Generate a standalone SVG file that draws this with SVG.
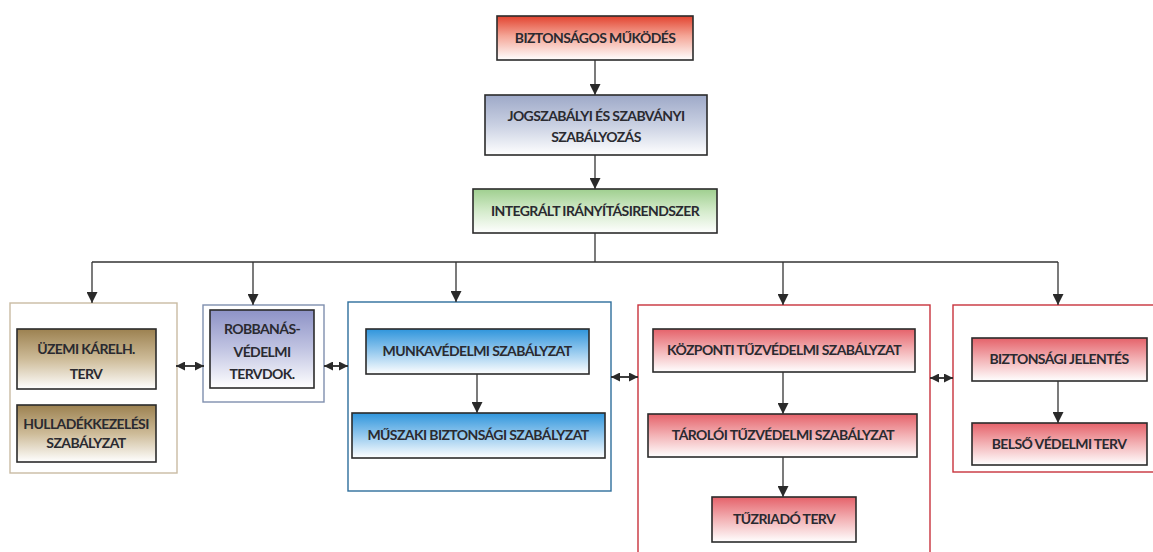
<svg xmlns="http://www.w3.org/2000/svg" width="1153" height="552" viewBox="0 0 1153 552">
<defs>
<linearGradient id="gRed0" x1="0" y1="0" x2="0" y2="1"><stop offset="0" stop-color="#e2432f"/><stop offset="0.45" stop-color="#f4a596"/><stop offset="1" stop-color="#ffffff"/></linearGradient>
<linearGradient id="gSteel" x1="0" y1="0" x2="0" y2="1"><stop offset="0" stop-color="#9ea9c8"/><stop offset="0.5" stop-color="#c9d0e2"/><stop offset="1" stop-color="#ffffff"/></linearGradient>
<linearGradient id="gGreen" x1="0" y1="0" x2="0" y2="1"><stop offset="0" stop-color="#9fcf8f"/><stop offset="0.5" stop-color="#d4ebcb"/><stop offset="1" stop-color="#ffffff"/></linearGradient>
<linearGradient id="gTan" x1="0" y1="0" x2="0" y2="1"><stop offset="0" stop-color="#9c8150"/><stop offset="0.5" stop-color="#cdbb98"/><stop offset="1" stop-color="#ffffff"/></linearGradient>
<linearGradient id="gLav" x1="0" y1="0" x2="0" y2="1"><stop offset="0" stop-color="#8d92c6"/><stop offset="0.5" stop-color="#c1c4e2"/><stop offset="1" stop-color="#ffffff"/></linearGradient>
<linearGradient id="gBlue" x1="0" y1="0" x2="0" y2="1"><stop offset="0" stop-color="#2f95dc"/><stop offset="0.5" stop-color="#95c9ee"/><stop offset="1" stop-color="#ffffff"/></linearGradient>
<linearGradient id="gPink" x1="0" y1="0" x2="0" y2="1"><stop offset="0" stop-color="#e5626a"/><stop offset="0.5" stop-color="#f3b3b6"/><stop offset="1" stop-color="#ffffff"/></linearGradient>
<marker id="arr" viewBox="0 0 10 10" refX="10" refY="5" markerWidth="11" markerHeight="11" markerUnits="userSpaceOnUse" orient="auto"><path d="M0,0 L10,5 L0,10 z" fill="#2a2a2a"/></marker>
<marker id="arrS" viewBox="0 0 10 10" refX="10" refY="5" markerWidth="9" markerHeight="9" markerUnits="userSpaceOnUse" orient="auto-start-reverse"><path d="M0,0 L10,5 L0,10 z" fill="#2a2a2a"/></marker>
<style>
.box{stroke:#2b2b2b;stroke-width:1.6}
.t{font-family:"Lato","Liberation Sans",sans-serif;font-weight:bold;font-size:14px;fill:#2a2a30;text-anchor:middle;letter-spacing:-0.6px}
.ln{fill:none;stroke:#333;stroke-width:1.3}
.dbl{fill:none;stroke:#2a2a2a;stroke-width:1.8}
.grp{fill:#ffffff;stroke-width:1.4}
</style>
</defs>
<rect width="1153" height="552" fill="#ffffff"/>

<g id="n-biztonsagos">
<rect class="box" x="497" y="16" width="196" height="44" fill="url(#gRed0)"/>
<text class="t" x="595" y="43">BIZTONSÁGOS MŰKÖDÉS</text>
</g>
<g id="n-jogszabalyi">
<rect class="box" x="485" y="95" width="222" height="60" fill="url(#gSteel)"/>
<text class="t" x="596" y="121">JOGSZABÁLYI ÉS SZABVÁNYI</text>
<text class="t" x="596" y="142">SZABÁLYOZÁS</text>
</g>
<g id="n-integralt">
<rect class="box" x="473" y="189" width="244" height="44" fill="url(#gGreen)"/>
<text class="t" x="595" y="216">INTEGRÁLT IRÁNYÍTÁSIRENDSZER</text>
</g>

<g id="g-uzemi">
<rect class="grp" x="10" y="303" width="167" height="170" stroke="#c9bba3"/>
<g id="n-uzemi">
<rect class="box" x="17" y="329" width="139" height="60" fill="url(#gTan)"/>
<text class="t" x="86" y="354">ÜZEMI KÁRELH.</text>
<text class="t" x="86" y="379">TERV</text>
</g>
<g id="n-hulladek">
<rect class="box" x="17" y="405" width="139" height="57" fill="url(#gTan)"/>
<text class="t" x="86" y="429">HULLADÉKKEZELÉSI</text>
<text class="t" x="86" y="448">SZABÁLYZAT</text>
</g>
</g>

<g id="g-robbanas">
<rect class="grp" x="203" y="305" width="121" height="97" stroke="#7f8fae"/>
<g id="n-robbanas">
<rect class="box" x="210" y="310" width="104" height="78" fill="url(#gLav)"/>
<text class="t" x="262" y="334">ROBBANÁS-</text>
<text class="t" x="262" y="357">VÉDELMI</text>
<text class="t" x="262" y="379">TERVDOK.</text>
</g>
</g>

<g id="g-munka">
<rect class="grp" x="348" y="302" width="263" height="189" stroke="#2e6e9c"/>
<g id="n-munkavedelmi">
<rect class="box" x="366" y="329" width="223" height="45" fill="url(#gBlue)"/>
<text class="t" x="477" y="356">MUNKAVÉDELMI SZABÁLYZAT</text>
</g>
<g id="n-muszaki">
<rect class="box" x="352" y="413" width="253" height="45" fill="url(#gBlue)"/>
<text class="t" x="478" y="440">MŰSZAKI BIZTONSÁGI SZABÁLYZAT</text>
</g>
</g>

<g id="g-tuz">
<rect class="grp" x="638" y="305" width="292" height="260" stroke="#c8323c"/>
<g id="n-kozponti">
<rect class="box" x="653" y="329" width="262" height="43" fill="url(#gPink)"/>
<text class="t" x="784" y="355">KÖZPONTI TŰZVÉDELMI SZABÁLYZAT</text>
</g>
<g id="n-tarololi">
<rect class="box" x="648" y="414" width="269" height="43" fill="url(#gPink)"/>
<text class="t" x="783" y="440">TÁROLÓI TŰZVÉDELMI SZABÁLYZAT</text>
</g>
<g id="n-tuzriado">
<rect class="box" x="712" y="497" width="144" height="45" fill="url(#gPink)"/>
<text class="t" x="784" y="524">TŰZRIADÓ TERV</text>
</g>
</g>

<g id="g-biztonsagi">
<rect class="grp" x="953" y="305" width="215" height="167" stroke="#c8323c"/>
<g id="n-jelentes">
<rect class="box" x="972" y="338" width="175" height="43" fill="url(#gPink)"/>
<text class="t" x="1059" y="364">BIZTONSÁGI JELENTÉS</text>
</g>
<g id="n-belso">
<rect class="box" x="972" y="423" width="175" height="42" fill="url(#gPink)"/>
<text class="t" x="1059" y="449">BELSŐ VÉDELMI TERV</text>
</g>
</g>

<g id="connectors">
<line class="ln" x1="595" y1="60" x2="595" y2="95" marker-end="url(#arr)"/>
<line class="ln" x1="595" y1="155" x2="595" y2="189" marker-end="url(#arr)"/>
<polyline class="ln" points="595,233 595,262"/>
<line class="ln" x1="92" y1="262" x2="1058" y2="262"/>
<line class="ln" x1="92" y1="262" x2="92" y2="303" marker-end="url(#arr)"/>
<line class="ln" x1="253" y1="262" x2="253" y2="305" marker-end="url(#arr)"/>
<line class="ln" x1="456" y1="262" x2="456" y2="302" marker-end="url(#arr)"/>
<line class="ln" x1="783" y1="262" x2="783" y2="305" marker-end="url(#arr)"/>
<line class="ln" x1="1058" y1="262" x2="1058" y2="305" marker-end="url(#arr)"/>
<line class="ln" x1="477" y1="374" x2="477" y2="413" marker-end="url(#arr)"/>
<line class="ln" x1="783" y1="372" x2="783" y2="414" marker-end="url(#arr)"/>
<line class="ln" x1="783" y1="457" x2="783" y2="497" marker-end="url(#arr)"/>
<line class="ln" x1="1058" y1="381" x2="1058" y2="423" marker-end="url(#arr)"/>
<line class="dbl" x1="176" y1="366" x2="204" y2="366" marker-start="url(#arrS)" marker-end="url(#arrS)"/>
<line class="dbl" x1="324" y1="366" x2="348" y2="366" marker-start="url(#arrS)" marker-end="url(#arrS)"/>
<line class="dbl" x1="611" y1="377" x2="638" y2="377" marker-start="url(#arrS)" marker-end="url(#arrS)"/>
<line class="dbl" x1="930" y1="378" x2="953" y2="378" marker-start="url(#arrS)" marker-end="url(#arrS)"/>
</g>
</svg>
